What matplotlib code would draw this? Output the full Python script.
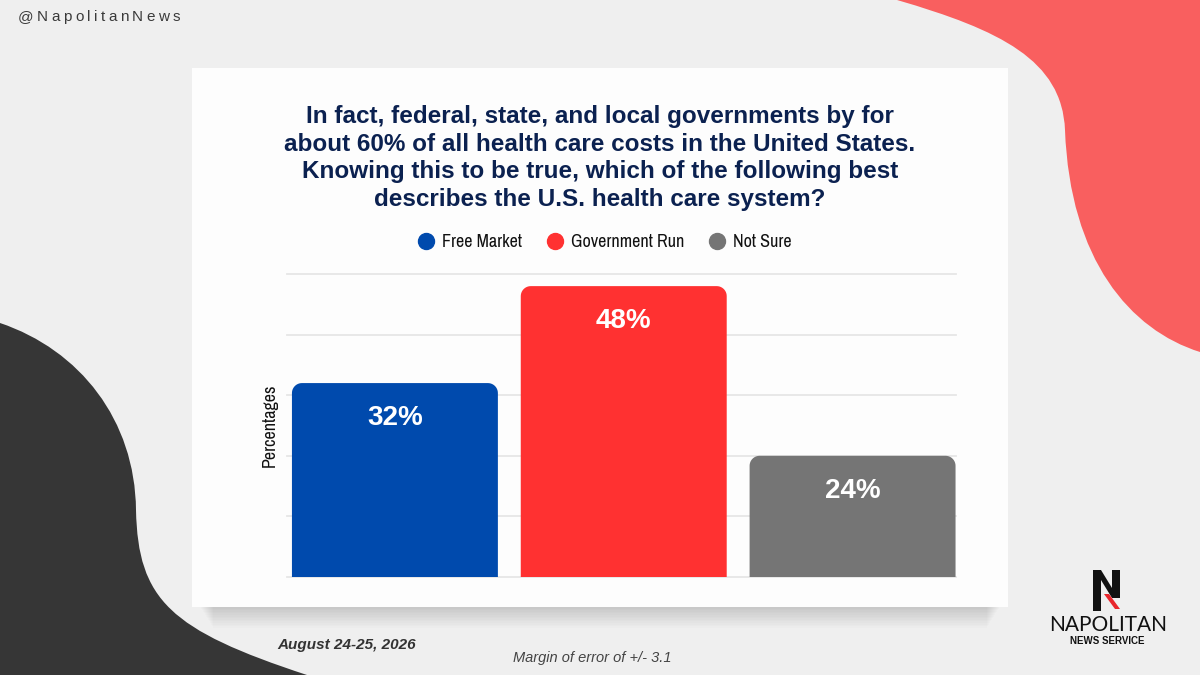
import matplotlib
matplotlib.use("Agg")
import matplotlib.pyplot as plt
import numpy as np
from matplotlib.patches import Polygon, Rectangle, PathPatch
from matplotlib.path import Path
from matplotlib.lines import Line2D
from matplotlib import font_manager

# --- data ---
categories = ["Free Market", "Government Run", "Not Sure"]
bar_heights = [32, 48, 20]          # drawn heights as they appear in the picture
bar_labels = ["32%", "48%", "24%"]  # labels printed on the bars
bar_colors = ["#004aad", "#ff3131", "#757575"]
grid_ticks = [0, 10, 20, 30, 40, 50]

title = ("In fact, federal, state, and local governments by for\n"
         "about 60% of all health care costs in the United States.\n"
         "Knowing this to be true, which of the following best\n"
         "describes the U.S. health care system?")

W, H = 1200, 675
SANS = ["Liberation Sans", "DejaVu Sans"]
# condensed face for legend / axis label if one is installed
narrow = [f.name for f in font_manager.fontManager.ttflist
          if "narrow" in f.name.lower() or "condensed" in f.name.lower()]
NARROW = ([narrow[0]] if narrow else []) + ["DejaVu Sans"]

fig = plt.figure(figsize=(12, 6.75), dpi=100)
fig.patch.set_facecolor("#efefef")

# background layer in pixel coordinates (y down)
bg = fig.add_axes([0, 0, 1, 1], zorder=0)
bg.set_xlim(0, W)
bg.set_ylim(H, 0)
bg.axis("off")

C4 = Path.CURVE4
red_blob = Path(
    [(897, 0), (1000, 30), (1062, 60), (1065, 130),
     (1070, 260), (1130, 330), (1200, 352), (1200, 0), (897, 0)],
    [Path.MOVETO, C4, C4, C4, C4, C4, C4, Path.LINETO, Path.CLOSEPOLY],
)
bg.add_patch(PathPatch(red_blob, facecolor="#f95f5f", edgecolor="none"))

dark_blob = Path(
    [(0, 323), (80, 350), (135, 420), (136, 510),
     (138, 600), (170, 630), (307, 675), (0, 675), (0, 323)],
    [Path.MOVETO, C4, C4, C4, C4, C4, C4, Path.LINETO, Path.CLOSEPOLY],
)
bg.add_patch(PathPatch(dark_blob, facecolor="#363636", edgecolor="none"))

# card with a soft shadow below it
for k in range(14):
    bg.add_patch(Rectangle((200 + k, 600), 800 - 2 * k, 7 + k * 1.6,
                           facecolor="#000000", alpha=0.011, edgecolor="none"))
bg.add_patch(Rectangle((192, 68), 816, 539, facecolor="#fdfdfd", edgecolor="none"))

# watermark with letter spacing
renderer = fig.canvas.get_renderer()
x = 18
for ch in "@NapolitanNews":
    t = bg.text(x, 17, ch, fontsize=11, color="#3a3a3a", family=SANS,
                ha="left", va="center")
    x += t.get_window_extent(renderer).width + 3.4

# logo
bg.add_patch(Polygon([(1093, 570), (1101, 570), (1112, 588), (1112, 570), (1120, 570),
                      (1120, 598), (1112, 598), (1101, 580), (1101, 611), (1093, 611)],
                     closed=True, facecolor="#111111", edgecolor="none"))
bg.add_patch(Polygon([(1104, 594), (1109, 594), (1120, 609), (1115, 609)],
                     closed=True, facecolor="#e8262c", edgecolor="none"))
bg.text(1108, 625, "NAPOLITAN", fontsize=15, color="#111111",
        family=["Lato", "Liberation Sans"], ha="center", va="center")
bg.text(1107, 641, "NEWS SERVICE", fontsize=7, fontweight="bold", color="#111111",
        family=SANS, ha="center", va="center")

# footer texts
bg.text(277, 645, "August 24-25, 2026", fontsize=11, fontweight="bold", style="italic",
        color="#333333", family=SANS, ha="left", va="center")
bg.text(513, 658, "Margin of error of +/- 3.1", fontsize=10.5, style="italic",
        color="#444444", family=SANS, ha="left", va="center")

# title
fig.text(0.5, 1 - 158 / H, title, fontsize=17.5, fontweight="bold", color="#0b2150",
         family=SANS, ha="center", va="center", linespacing=1.27, zorder=3)

# legend
handles = [Line2D([], [], marker="o", ls="", color=c, markersize=11.5) for c in bar_colors]
leg = fig.legend(handles, categories, loc="center", bbox_to_anchor=(0.503, 1 - 242 / H),
                 ncol=3, frameon=False, handlelength=1.2, handletextpad=0.3,
                 columnspacing=1.2,
                 prop={"family": NARROW, "size": 13, "stretch": "condensed"})
for txt in leg.get_texts():
    txt.set_color("#111111")

# chart axes
ax_l, ax_r, ax_b, ax_t = 287, 956, 577, 274
ax = fig.add_axes([ax_l / W, 1 - ax_b / H, (ax_r - ax_l) / W, (ax_b - ax_t) / H], zorder=2)
ax.set_facecolor("none")
x_lo, x_hi = -0.4716, 2.452
ax.set_xlim(x_lo, x_hi)
ax.set_ylim(0, 50)
for s in ax.spines.values():
    s.set_visible(False)
ax.set_xticks([])
ax.set_yticks([])

for g in grid_ticks:
    ax.axhline(g, color="#e6e6e6", lw=1.3, clip_on=False, zorder=0)

bar_w = 0.9
r_px = 10
rx = r_px * (x_hi - x_lo) / (ax_r - ax_l)
ry = r_px * 50 / (ax_b - ax_t)
theta = np.linspace(0, np.pi / 2, 12)

for i, (h, col, lab) in enumerate(zip(bar_heights, bar_colors, bar_labels)):
    left, right = i - bar_w / 2, i + bar_w / 2
    verts = [(left, 0), (left, h - ry)]
    verts += [(left + rx - rx * np.cos(t), h - ry + ry * np.sin(t)) for t in theta]
    verts += [(right - rx + rx * np.sin(t), h - ry + ry * np.cos(t)) for t in theta]
    verts += [(right, 0)]
    ax.add_patch(Polygon(verts, closed=True, facecolor=col, edgecolor="none", zorder=2))
    ax.annotate(lab, (i, h), xytext=(0, -25), textcoords="offset points",
                ha="center", va="center", fontsize=20, fontweight="bold",
                color="white", family=SANS, zorder=3)

fig.text(270 / W, 1 - 425 / H, "Percentages", rotation=90, fontsize=13,
         family=NARROW, stretch="condensed", color="#111111",
         ha="center", va="center", zorder=3)

fig.savefig("out.png", dpi=100)
